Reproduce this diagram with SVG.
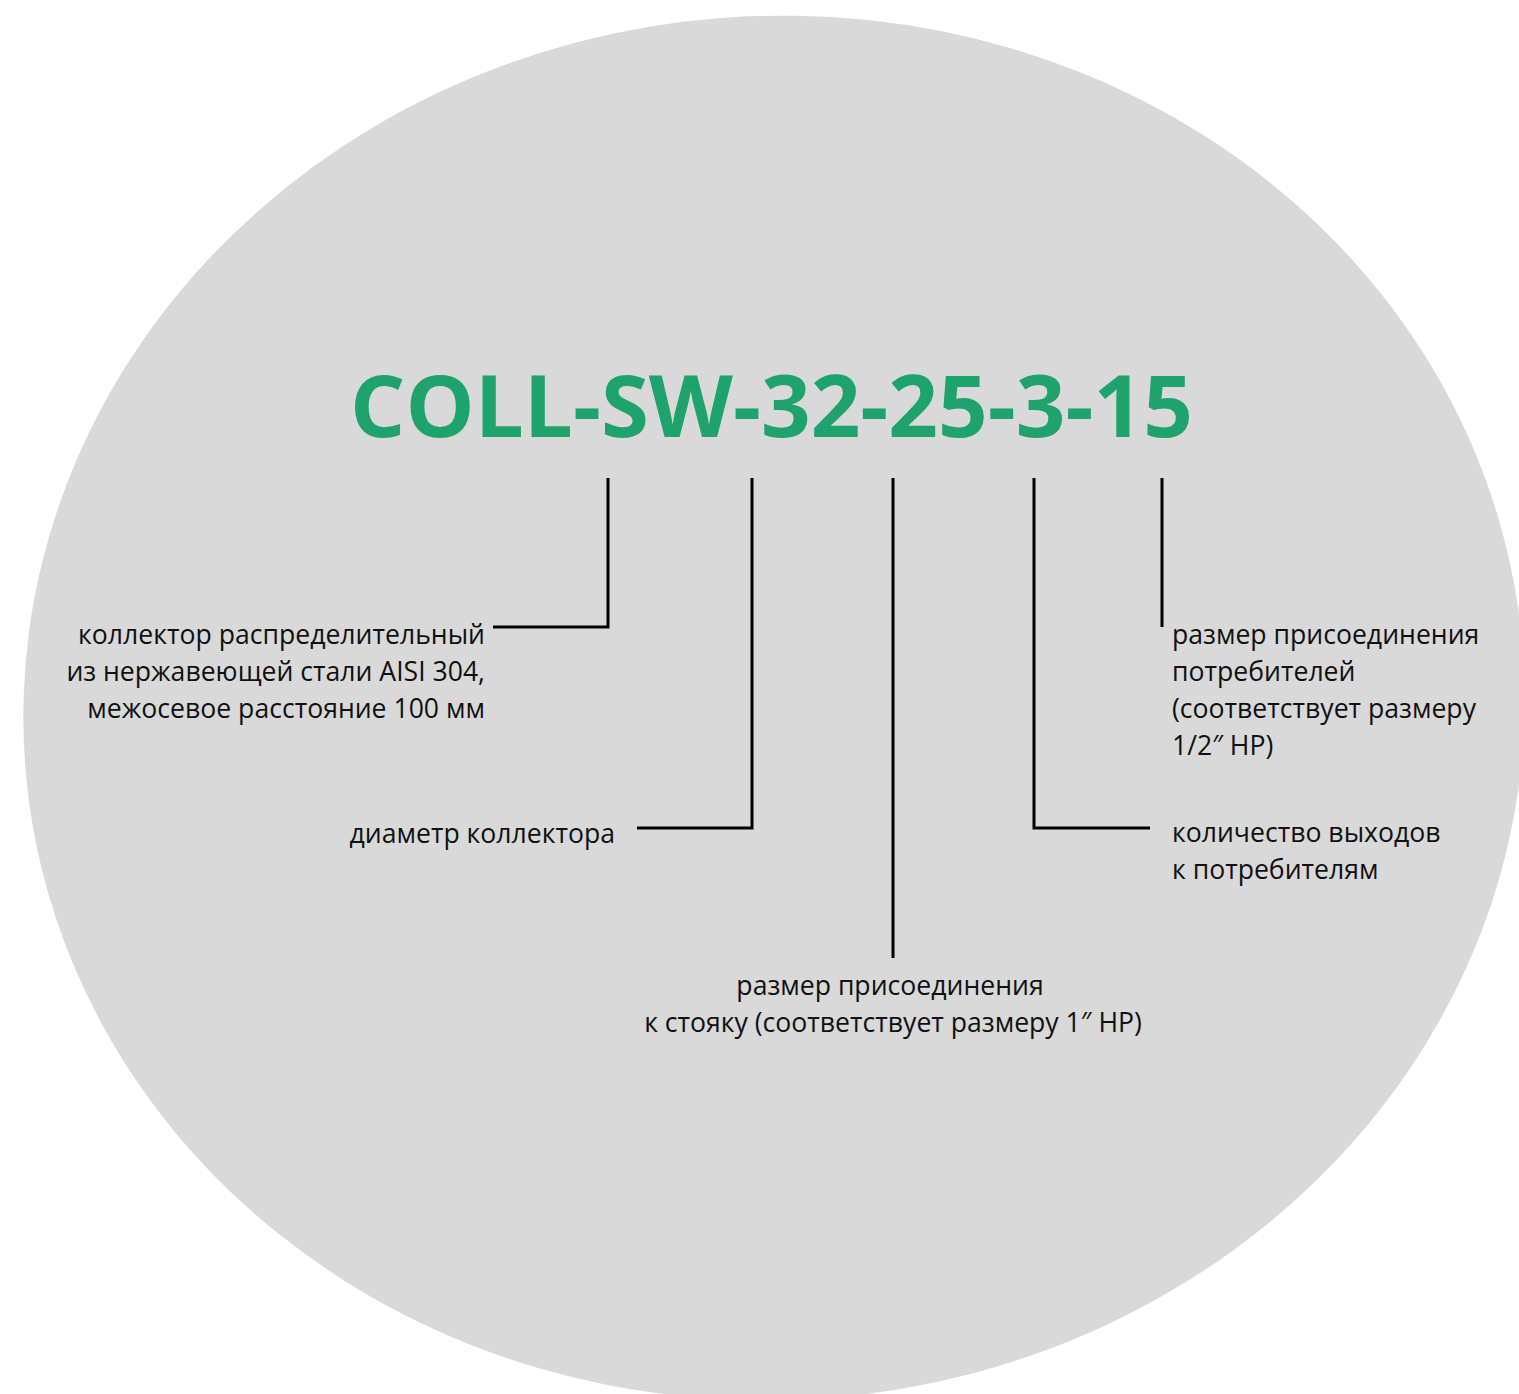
<svg xmlns="http://www.w3.org/2000/svg" width="1519" height="1394" viewBox="0 0 1519 1394">
<style>
.t{font-family:"Open Sans","Noto Sans","DejaVu Sans",sans-serif;font-size:26.6px;fill:#111}
.title{font-family:"Open Sans","DejaVu Sans",sans-serif;font-weight:700;font-size:86px;fill:#1ea36c}
.c{fill:none;stroke:#000;stroke-width:3}
</style>
<rect width="1519" height="1394" fill="#fff"/>
<ellipse id="bg" cx="774" cy="708" rx="751" ry="692" fill="#d9d9d9" transform="rotate(-4.4 774 708)"/>
<g id="title"><text class="title" x="350" y="437" textLength="843" lengthAdjust="spacingAndGlyphs">COLL-SW-32-25-3-15</text></g>
<g id="connectors">
<polyline class="c" points="608,478 608,627 493,627"/>
<polyline class="c" points="752,478 752,828 637,828"/>
<polyline class="c" points="893,478 893,958"/>
<polyline class="c" points="1034,478 1034,828 1150,828"/>
<polyline class="c" points="1162,478 1162,627"/>
</g>
<g id="n1"><text class="t" text-anchor="end"><tspan x="485" y="644">коллектор распределительный</tspan><tspan x="485" y="681">из нержавеющей стали AISI 304,</tspan><tspan x="485" y="718">межосевое расстояние 100 мм</tspan></text></g>
<g id="n2"><text class="t" text-anchor="end" x="615" y="843">диаметр коллектора</text></g>
<g id="n3"><text class="t" text-anchor="middle"><tspan x="890" y="995">размер присоединения</tspan><tspan x="893" y="1032">к стояку (соответствует размеру 1″ НР)</tspan></text></g>
<g id="n4"><text class="t"><tspan x="1172" y="842">количество выходов</tspan><tspan x="1172" y="879">к потребителям</tspan></text></g>
<g id="n5"><text class="t"><tspan x="1172" y="644">размер присоединения</tspan><tspan x="1172" y="681">потребителей</tspan><tspan x="1172" y="718">(соответствует размеру</tspan><tspan x="1172" y="755">1/2″ НР)</tspan></text></g>
</svg>
